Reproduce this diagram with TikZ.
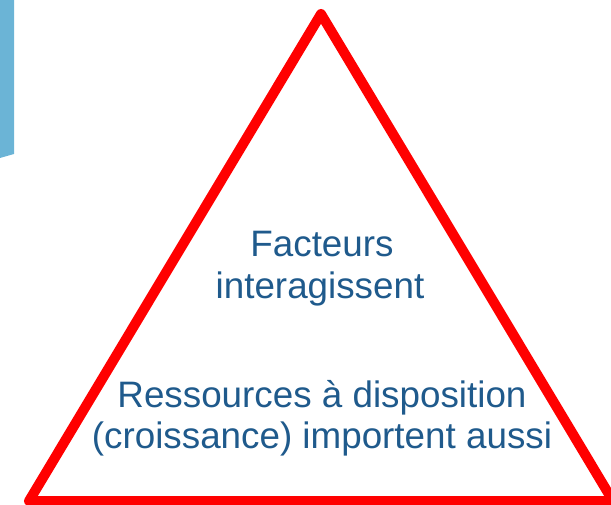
\documentclass[tikz,border=0pt]{standalone}
\usepackage{fontspec}
\setmainfont{Liberation Sans}
\definecolor{barblue}{RGB}{107,180,214}
\definecolor{txtblue}{RGB}{31,90,140}
\definecolor{trired}{RGB}{255,0,0}
\begin{document}
\begin{tikzpicture}[x=1pt,y=-1pt,
  tri/.style={draw=trired,line width=10pt,line join=round},
  lbl/.style={text=txtblue,font=\fontsize{36.8}{42}\selectfont,align=center,inner sep=0pt,anchor=base}]
\useasboundingbox (0,0) rectangle (611,505);
\fill[barblue] (0,0) -- (14,0) -- (14,154) -- (0,158) -- cycle;
\coordinate (A) at (321,14);
\coordinate (B) at (29,501);
\coordinate (C) at (613,501);
\draw[tri] (A) -- (B) -- (C) -- cycle;
\node[lbl] (t1) at (322,257) {Facteurs};
\node[lbl] (t2) at (320,299) {interagissent};
\node[lbl] (t3) at (322,407) {Ressources à disposition};
\node[lbl] (t4) at (322,448) {(croissance) importent aussi};
\end{tikzpicture}
\end{document}
